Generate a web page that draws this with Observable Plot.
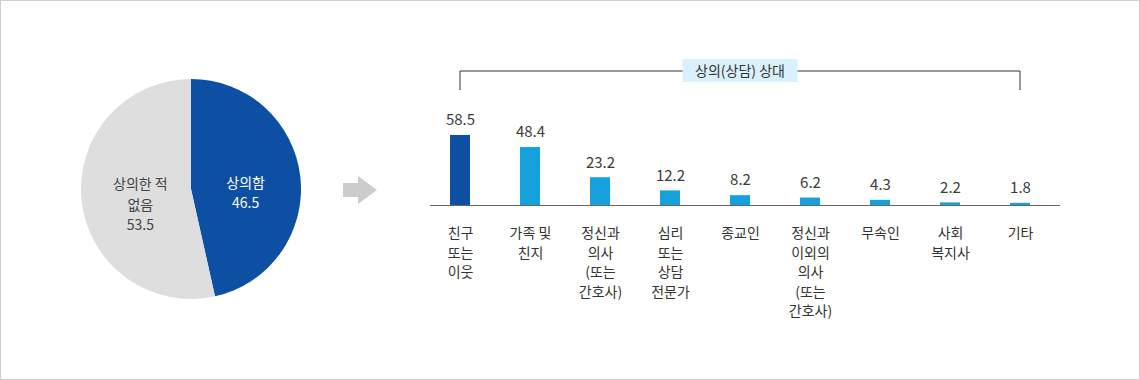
<!DOCTYPE html>
<html><head><meta charset="utf-8">
<script src="https://cdn.jsdelivr.net/npm/d3@7"></script>
<script src="https://cdn.jsdelivr.net/npm/@observablehq/plot@0.6"></script>
<style>
body{margin:0;background:#fff;}
#wrap{position:relative;width:1140px;height:380px;font-family:"Noto Sans CJK KR","Noto Sans",sans-serif;}
#wrap svg{position:absolute;left:0;top:0;}
#frame{position:absolute;left:0;top:0;width:1140px;height:380px;box-sizing:border-box;border:1px solid #cfcfcf;pointer-events:none;}
</style></head><body>
<div id="wrap"><div id="frame"></div></div>
<script>
// ---- data ----
const pieLabels = ["상의함", "상의한 적\n없음"];
const pieValues = [46.5, 53.5];
const pieColors = ["#0d4fa3", "#dedede"];
const pieTextColors = ["#ffffff", "#444444"];

const categories = ["친구\n또는\n이웃", "가족 및\n친지", "정신과\n의사\n(또는\n간호사)", "심리\n또는\n상담\n전문가", "종교인", "정신과\n이외의\n의사\n(또는\n간호사)", "무속인", "사회\n복지사", "기타"];
const values = [58.5, 48.4, 23.2, 12.2, 8.2, 6.2, 4.3, 2.2, 1.8];
const highlighted = ["친구\n또는\n이웃"];
const bracketTitle = "상의(상담) 상대";

const bars = categories.map((c, i) => ({cat: c, value: values[i], group: highlighted.includes(c) ? "hi" : "lo"}));

const FONT = '"Noto Sans CJK KR","Noto Sans",sans-serif';

// ---- custom marks ----
function pieMark(index, scales, vals, dims) {
  const cx = 191, cy = 189, r = 110;
  const g = d3.create("svg:g").attr("transform", `translate(${cx},${cy})`);
  const arcs = d3.pie().sort(null)(pieValues);
  const arc = d3.arc().innerRadius(0).outerRadius(r);
  g.selectAll("path").data(arcs).join("path")
    .attr("d", arc).attr("fill", (d, i) => pieColors[i]);
  arcs.forEach((a, i) => {
    const [x, y] = arc.centroid(a);
    const lines = pieLabels[i].split("\n").concat([pieValues[i].toFixed(1)]);
    const lh = 20.5;
    const y0 = y + 10 - (lines.length - 1) * lh / 2;
    const t = g.append("text").attr("text-anchor", "middle")
      .attr("fill", pieTextColors[i]).attr("font-size", 14).attr("font-family", FONT);
    lines.forEach((s, k) => t.append("tspan").attr("x", x + (i === 1 ? 4 : 0)).attr("y", y0 + k * lh).attr("dy", "0.35em").text(s));
  });
  return g.node();
}

function arrowMark() {
  return d3.create("svg:path")
    .attr("d", "M343,183 H358 V176 L377,190 L358,204 V197 H343 Z")
    .attr("fill", "#cccccc").node();
}

function bracketMark(index, scales) {
  const x = scales.x;
  const bw = x.bandwidth ? x.bandwidth() / 2 : 0;
  const x1 = x(categories[0]) + bw, x2 = x(categories[categories.length - 1]) + bw;
  const yTop = 71, yBot = 90;
  const g = d3.create("svg:g");
  g.append("path").attr("d", `M${x1},${yBot} V${yTop} H${x2} V${yBot}`)
    .attr("fill", "none").attr("stroke", "#333").attr("stroke-width", 1);
  const mid = (x1 + x2) / 2;
  g.append("rect").attr("x", mid - 57.5).attr("y", 59).attr("width", 115).attr("height", 23).attr("fill", "#d9f1fc");
  g.append("text").attr("x", mid).attr("y", 71).attr("dy", "0.35em").attr("text-anchor", "middle")
    .attr("font-size", 14).attr("font-family", FONT).attr("fill", "#333").text(bracketTitle);
  return g.node();
}

const chart = Plot.plot({
  width: 1140, height: 380,
  marginLeft: 430, marginRight: 80, marginTop: 0, marginBottom: 0,
  x: {type: "band", domain: categories, range: [425, 1055], padding: 0, axis: null},
  y: {domain: [0, 100], range: [205, 85.3], axis: null},
  color: {domain: ["hi", "lo"], range: ["#0d4fa3", "#16a1dc"]},
  style: {fontFamily: FONT, background: "transparent", overflow: "visible"},
  marks: [
    pieMark,
    arrowMark,
    Plot.barY(bars, {x: "cat", y: "value", fill: "group", insetLeft: 25, insetRight: 25}),
    Plot.ruleY([0], {stroke: "#666", strokeWidth: 1}),
    Plot.text(bars, {x: "cat", y: "value", text: d => d.value.toFixed(1), dy: -15, fontSize: 15, fill: "#3a3a3a", lineAnchor: "middle"}),
    Plot.text(bars, {x: "cat", y: 0, text: "cat", lineAnchor: "top", dy: 19, lineHeight: 1.39, fontSize: 14, fill: "#333"}),
    bracketMark
  ]
});
document.getElementById("wrap").insertBefore(chart, document.getElementById("frame"));
</script>
</body></html>
